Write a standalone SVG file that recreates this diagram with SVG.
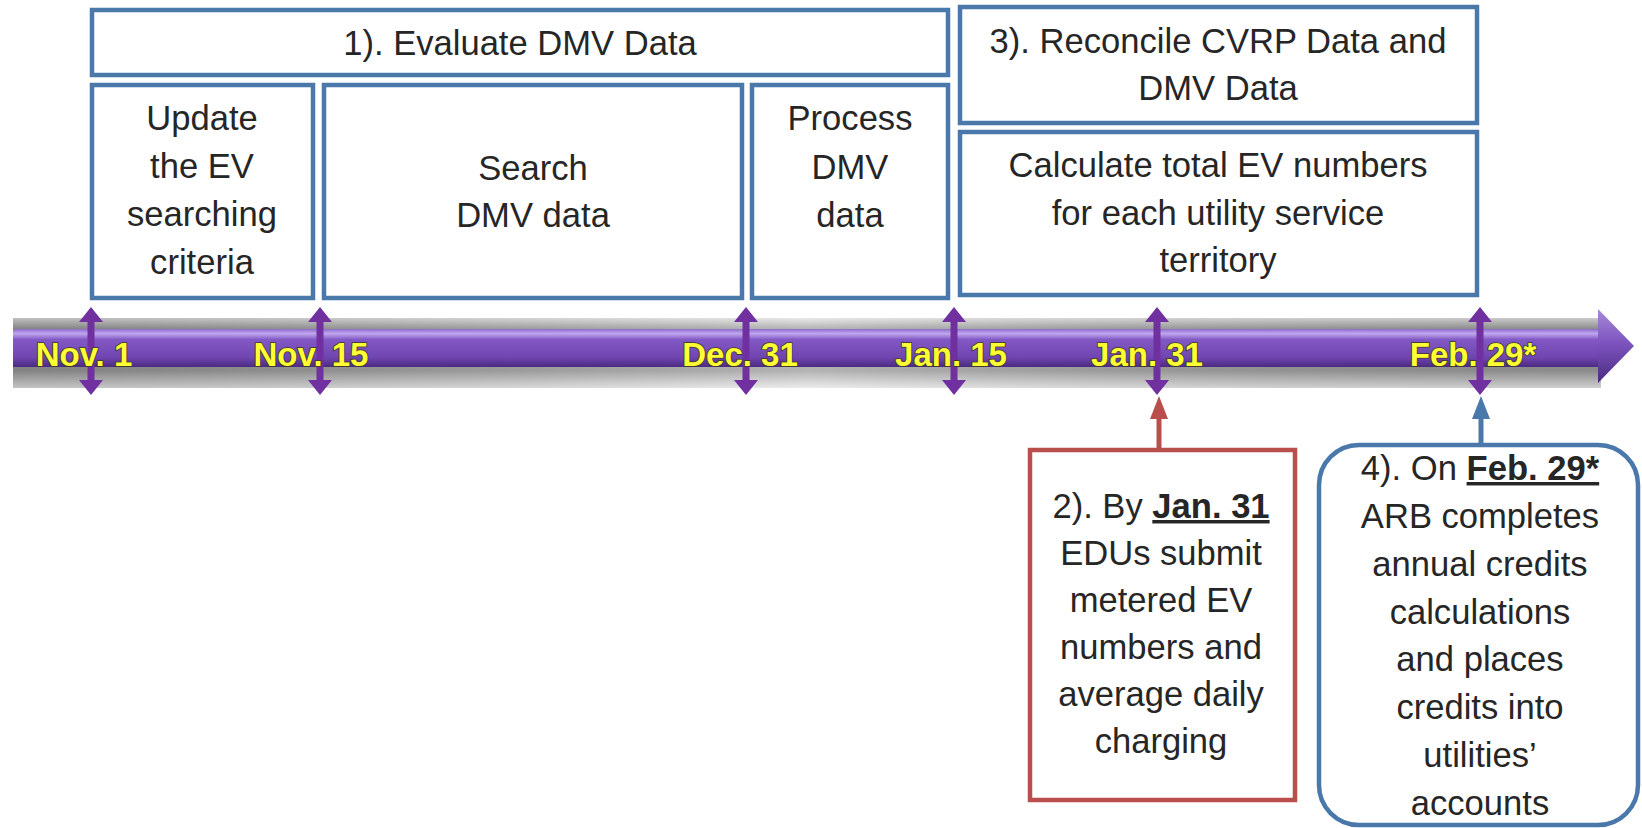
<svg xmlns="http://www.w3.org/2000/svg" xmlns:xlink="http://www.w3.org/1999/xlink" width="1642" height="828" viewBox="0 0 1642 828">
<defs>
<style>
.box{fill:#ffffff;stroke:#4a78ab;stroke-width:4.5}
.rbox{fill:#ffffff;stroke:#b84f4c;stroke-width:4.5}
.t{font-family:"Liberation Sans",Arial,sans-serif;font-size:34.6px;fill:#262626;text-anchor:middle}
.lbl{font-family:"Liberation Sans",Arial,sans-serif;font-size:33px;font-weight:bold;fill:#ffff33;stroke:#3a3a1a;stroke-width:1.6px;paint-order:stroke;text-anchor:middle}
.b{font-weight:bold;text-decoration:underline}
.tick{fill:#7030a0}
</style>
<linearGradient id="shadow" x1="0" y1="0" x2="0" y2="1">
<stop offset="0" stop-color="#e2e2e2"/>
<stop offset="0.15" stop-color="#9c9c9c"/>
<stop offset="0.75" stop-color="#9a9a9a"/>
<stop offset="1" stop-color="#e6e6e6"/>
</linearGradient>
<linearGradient id="shadowH" x1="0" y1="0" x2="1" y2="0">
<stop offset="0" stop-color="#000" stop-opacity="0.15"/>
<stop offset="0.5" stop-color="#fff" stop-opacity="0.25"/>
<stop offset="1" stop-color="#000" stop-opacity="0.1"/>
</linearGradient>
<linearGradient id="bar" x1="0" y1="0" x2="0" y2="1">
<stop offset="0" stop-color="#8e6ccc"/>
<stop offset="0.12" stop-color="#c0a6ee"/>
<stop offset="0.28" stop-color="#8258c4"/>
<stop offset="0.75" stop-color="#7045b0"/>
<stop offset="1" stop-color="#4b2a80"/>
</linearGradient>
<linearGradient id="head" x1="0" y1="0" x2="0" y2="1">
<stop offset="0" stop-color="#a68ad8"/>
<stop offset="0.45" stop-color="#7e55c0"/>
<stop offset="1" stop-color="#4b2a80"/>
</linearGradient>
<path id="tk" d="M0,-44 L12,-29 L3.5,-29 L3.5,29 L12,29 L0,44 L-12,29 L-3.5,29 L-3.5,-29 L-12,-29 Z"/>
</defs>

<g id="timeline">
<rect x="13" y="318" width="1588" height="70" fill="url(#shadow)"/>
<rect x="13" y="318" width="1588" height="70" fill="url(#shadowH)"/>
<rect x="13" y="329" width="1590" height="38" fill="url(#bar)"/>
<polygon points="1598,309 1634,346 1598,383" fill="url(#head)"/>
<g class="tick">
<use xlink:href="#tk" x="91" y="351"/>
<use xlink:href="#tk" x="320" y="351"/>
<use xlink:href="#tk" x="746" y="351"/>
<use xlink:href="#tk" x="954" y="351"/>
<use xlink:href="#tk" x="1157" y="351"/>
<use xlink:href="#tk" x="1480" y="351"/>
</g>
<text class="lbl" x="84" y="366">Nov. 1</text>
<text class="lbl" x="311" y="366">Nov. 15</text>
<text class="lbl" x="740" y="366">Dec. 31</text>
<text class="lbl" x="951" y="366">Jan. 15</text>
<text class="lbl" x="1147" y="366">Jan. 31</text>
<text class="lbl" x="1473" y="366">Feb. 29*</text>
</g>

<g id="evaluate">
<rect class="box" x="92" y="10" width="856" height="65"/>
<text class="t" x="520" y="55">1). Evaluate DMV Data</text>
</g>

<g id="update">
<rect class="box" x="92" y="85" width="221" height="213"/>
<text class="t" x="202" y="130">Update</text>
<text class="t" x="202" y="178">the EV</text>
<text class="t" x="202" y="226">searching</text>
<text class="t" x="202" y="274">criteria</text>
</g>

<g id="search">
<rect class="box" x="324" y="85" width="418" height="213"/>
<text class="t" x="533" y="180">Search</text>
<text class="t" x="533" y="227">DMV data</text>
</g>

<g id="process">
<rect class="box" x="752" y="85" width="196" height="213"/>
<text class="t" x="850" y="130">Process</text>
<text class="t" x="850" y="179">DMV</text>
<text class="t" x="850" y="227">data</text>
</g>

<g id="reconcile">
<rect class="box" x="960" y="7" width="517" height="116"/>
<text class="t" x="1218" y="53">3). Reconcile CVRP Data and</text>
<text class="t" x="1218" y="100">DMV Data</text>
</g>

<g id="calculate">
<rect class="box" x="960" y="132" width="517" height="163"/>
<text class="t" x="1218" y="177">Calculate total EV numbers</text>
<text class="t" x="1218" y="225">for each utility service</text>
<text class="t" x="1218" y="272">territory</text>
</g>

<g id="connectors">
<line x1="1159" y1="450" x2="1159" y2="416" stroke="#b84f4c" stroke-width="5"/>
<polygon points="1150,419 1159,396 1168,419" fill="#b84f4c"/>
<line x1="1481" y1="445" x2="1481" y2="416" stroke="#4a78ab" stroke-width="5"/>
<polygon points="1472,419 1481,396 1490,419" fill="#4a78ab"/>
</g>

<g id="edus">
<rect class="rbox" x="1030" y="450" width="265" height="350"/>
<text class="t" x="1161" y="518">2). By <tspan class="b">Jan. 31</tspan></text>
<text class="t" x="1161" y="565">EDUs submit</text>
<text class="t" x="1161" y="612">metered EV</text>
<text class="t" x="1161" y="659">numbers and</text>
<text class="t" x="1161" y="706">average daily</text>
<text class="t" x="1161" y="753">charging</text>
</g>

<g id="arb">
<rect class="box" x="1319" y="445" width="319" height="380" rx="40" ry="40"/>
<text class="t" x="1480" y="480">4). On <tspan class="b">Feb. 29*</tspan></text>
<text class="t" x="1480" y="528">ARB completes</text>
<text class="t" x="1480" y="576">annual credits</text>
<text class="t" x="1480" y="624">calculations</text>
<text class="t" x="1480" y="671">and places</text>
<text class="t" x="1480" y="719">credits into</text>
<text class="t" x="1480" y="767">utilities’</text>
<text class="t" x="1480" y="815">accounts</text>
</g>
</svg>
